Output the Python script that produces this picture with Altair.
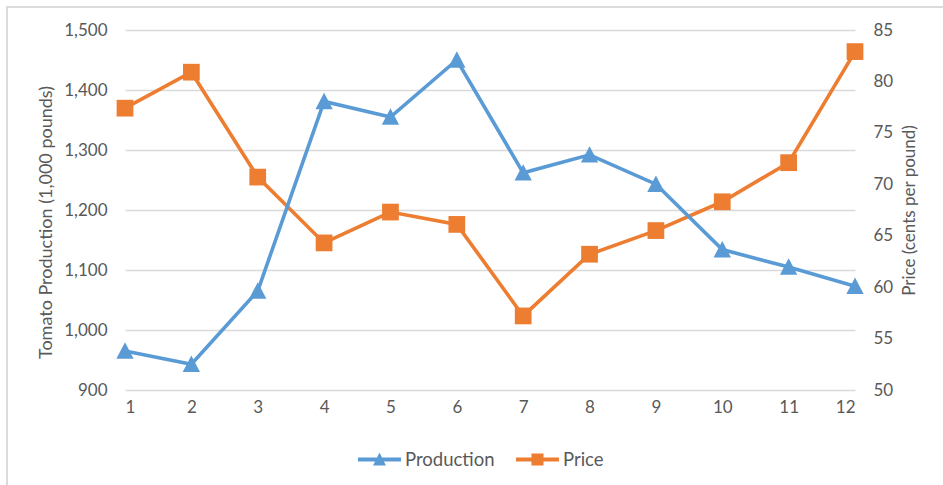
import altair as alt
import pandas as pd

months = list(range(1, 13))
production = [965, 943, 1065, 1381, 1355, 1450, 1262, 1292, 1243, 1134, 1105, 1073]
price = [77.4, 80.9, 70.7, 64.3, 67.3, 66.1, 57.2, 63.2, 65.5, 68.3, 72.1, 82.9]
series_names = ["Production", "Price"]
left_ticks = [900, 1000, 1100, 1200, 1300, 1400, 1500]
right_ticks = [50, 55, 60, 65, 70, 75, 80, 85]

BLUE = "#5B9BD5"
ORANGE = "#ED7D31"
TXT = "#595959"
GRID = "#D9D9D9"
FONT = "Lato"

df = pd.DataFrame({"month": months, "production": production, "price": price})
legend_df = pd.DataFrame({"series": series_names})

x_enc = alt.X(
    "month:Q",
    scale=alt.Scale(domain=[1, 12], nice=False, zero=False),
    axis=alt.Axis(values=months, title=None, grid=False, domain=False, ticks=False,
                  labelPadding=9, labelFontSize=17, labelColor=TXT, labelFont=FONT),
)

y_left = alt.Y(
    "production:Q",
    scale=alt.Scale(domain=[900, 1500], nice=False, zero=False),
    axis=alt.Axis(values=left_ticks, format=",.0f", orient="left",
                  title="Tomato Production (1,000 pounds)",
                  grid=True, gridColor=GRID, gridWidth=1.3, domain=False, ticks=False,
                  labelPadding=18, labelFontSize=17, labelColor=TXT, labelFont=FONT,
                  titleFontSize=18, titleColor=TXT, titleFont=FONT, titleFontWeight="normal",
                  titlePadding=8, titleY=192, titleAlign="center"),
)

y_right = alt.Y(
    "price:Q",
    scale=alt.Scale(domain=[50, 85], nice=False, zero=False),
    axis=alt.Axis(values=right_ticks, orient="right", title="Price (cents per pound)",
                  grid=False, domain=False, ticks=False, titleAngle=270,
                  labelPadding=18, labelFontSize=17, labelColor=TXT, labelFont=FONT,
                  titleFontSize=17, titleColor=TXT, titleFont=FONT, titleFontWeight="normal",
                  titlePadding=26),
)

base = alt.Chart(df)

border = alt.Chart(legend_df).mark_rect(fill=None, stroke=GRID, strokeWidth=1.5).encode(
    x=alt.value(-118), x2=alt.value(840), y=alt.value(-23), y2=alt.value(480)
)

prod_line = base.mark_line(color=BLUE, strokeWidth=3.6).encode(x=x_enc, y=y_left)
prod_pts = base.mark_point(filled=True, opacity=1, color=BLUE, shape="M0,-1L1,0.9L-1,0.9Z",
                           size=300).encode(x=x_enc, y=y_left)

prod_legend_path = "M-1,-0.09H1V0.09H-1Z M-0.3,0.28L0,-0.32L0.3,0.28Z"
price_legend_path = "M-1,-0.09H1V0.09H-1Z M-0.28,-0.28H0.28V0.28H-0.28Z"

legend_layer = alt.Chart(legend_df).mark_point(filled=True, opacity=0).encode(
    x=alt.value(0), y=alt.value(0),
    color=alt.Color("series:N", scale=alt.Scale(domain=series_names, range=[BLUE, ORANGE]),
                    legend=alt.Legend(title=None, orient="none", direction="horizontal",
                                      legendX=233, legendY=408,
                                      symbolOpacity=1, symbolSize=1849, symbolStrokeWidth=0,
                                      labelFontSize=18.5, labelColor=TXT, labelFont=FONT,
                                      labelOffset=4, columnPadding=21)),
    shape=alt.Shape("series:N", scale=alt.Scale(domain=series_names,
                                                range=[prod_legend_path, price_legend_path]),
                    legend=None),
)

price_line = base.mark_line(color=ORANGE, strokeWidth=3.6).encode(x=x_enc, y=y_right)
price_pts = base.mark_point(filled=True, opacity=1, color=ORANGE, shape="square",
                            size=280).encode(x=x_enc, y=y_right)

left = alt.layer(border, prod_line, prod_pts, legend_layer)
right = alt.layer(price_line, price_pts)

chart = alt.layer(right, left).resolve_scale(y="independent").properties(
    width=730, height=360, autosize="none",
    padding={"left": 125, "top": 30, "right": 88, "bottom": 95},
    background="white",
).configure_view(stroke=None)

chart.save("out.html", embed_options={"renderer": "svg", "actions": False})
